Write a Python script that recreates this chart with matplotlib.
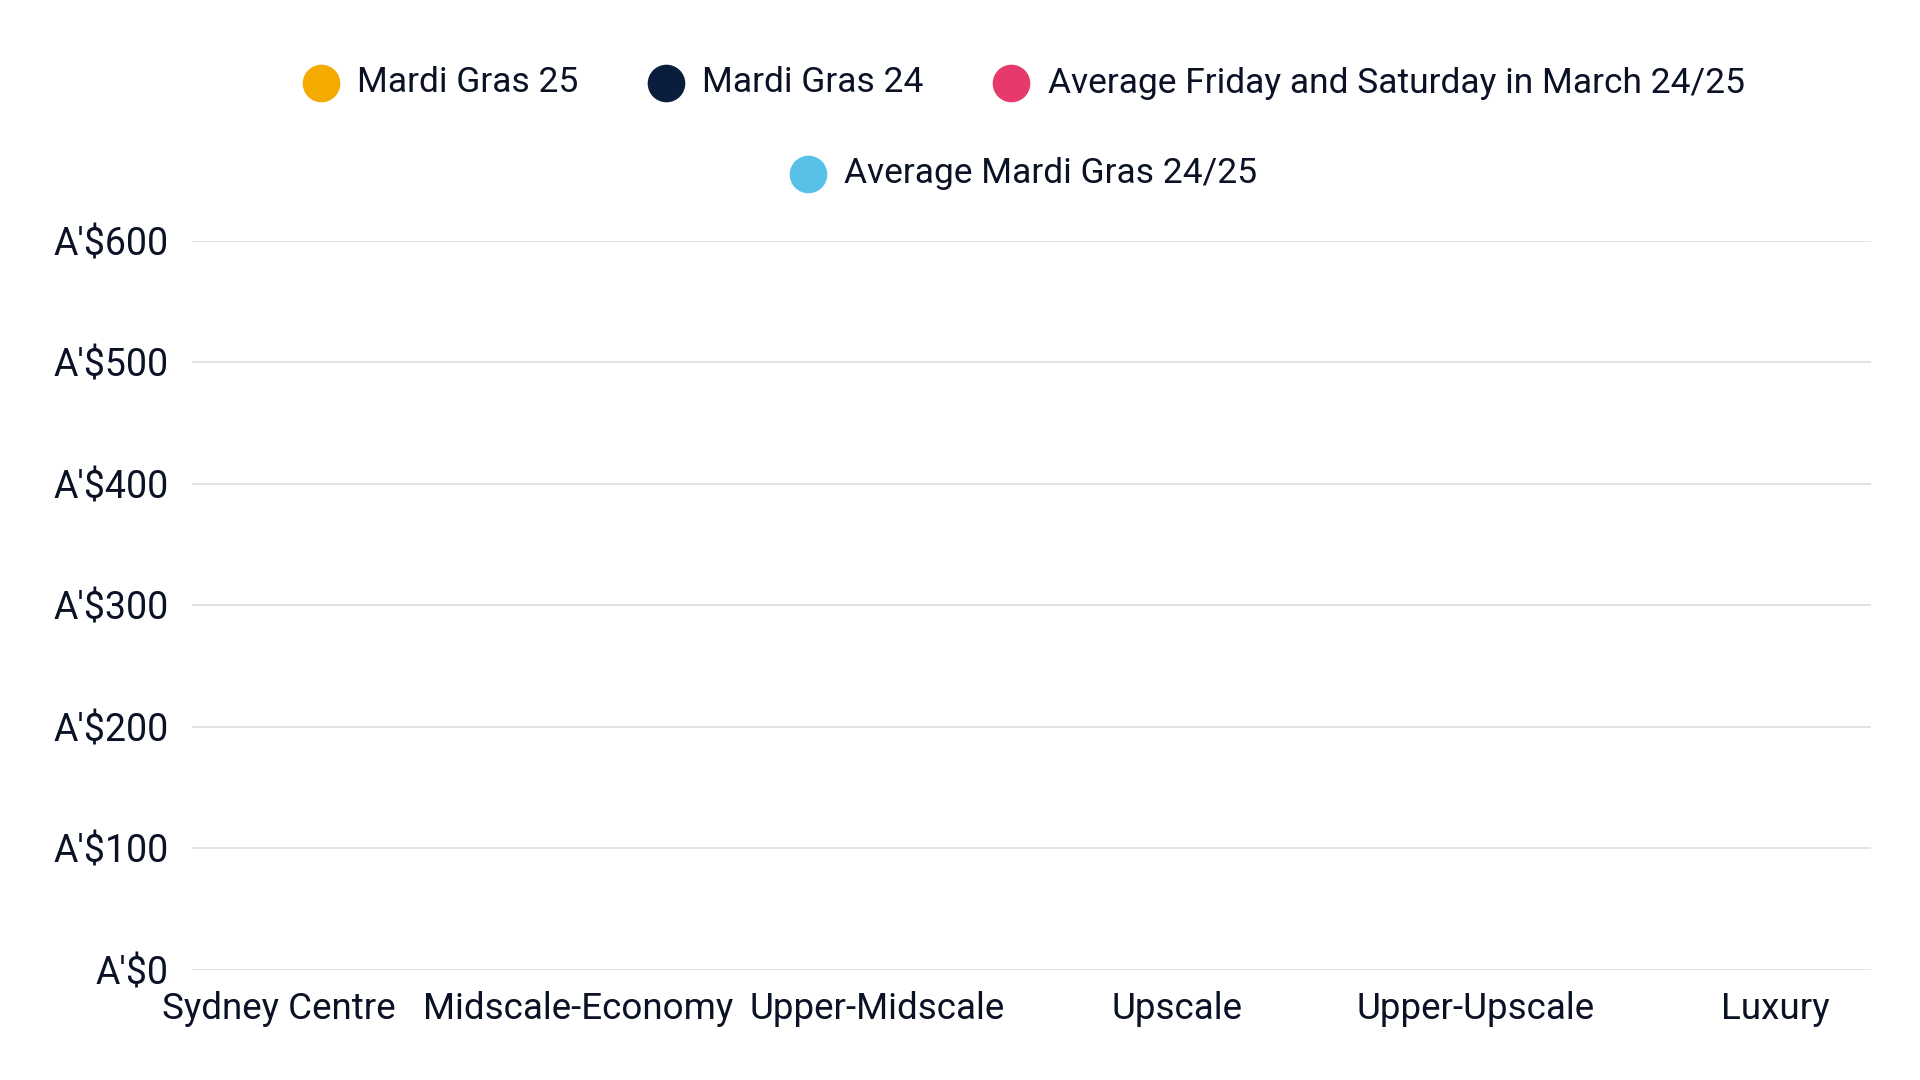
import numpy as np
import matplotlib
matplotlib.use("Agg")
import matplotlib.pyplot as plt

plt.rcParams['font.family'] = ['Roboto', 'DejaVu Sans']

# Categories and series (the reference shows no plotted values yet, so all empty)
categories = ["Sydney Centre", "Midscale-Economy", "Upper-Midscale",
              "Upscale", "Upper-Upscale", "Luxury"]
mardi_gras_25 = [np.nan] * 6
mardi_gras_24 = [np.nan] * 6
avg_fri_sat_march = [np.nan] * 6
avg_mardi_gras = [np.nan] * 6

series_names = ["Mardi Gras 25", "Mardi Gras 24",
                "Average Friday and Saturday in March 24/25",
                "Average Mardi Gras 24/25"]
series_colors = ["#F4AA00", "#0B1D3D", "#E53A6B", "#57C1E8"]
y_ticks = [0, 100, 200, 300, 400, 500, 600]
y_tick_labels = ["A'$0", "A'$100", "A'$200", "A'$300", "A'$400", "A'$500", "A'$600"]

text_color = "#0B1226"

fig = plt.figure(figsize=(19.2, 10.8), dpi=100)
ax = fig.add_axes([0.100, 0.102, 0.8745, 0.675])

x = np.arange(len(categories))
handles = []
for vals, name, col in zip([mardi_gras_25, mardi_gras_24, avg_fri_sat_march, avg_mardi_gras],
                           series_names, series_colors):
    h = ax.scatter(x, vals, s=300, color=col, label=name)
    handles.append(h)

ax.set_xlim(-0.29, 5.32)
ax.set_ylim(0, 600)
ax.set_yticks(y_ticks)
ax.set_yticklabels(y_tick_labels)
ax.set_xticks(x)
ax.set_xticklabels(categories)
ax.tick_params(axis='y', length=0, pad=17, labelsize=27, labelcolor=text_color)
ax.tick_params(axis='x', length=0, pad=15, labelsize=26.5, labelcolor=text_color)
ax.grid(axis='y', color="#DADADA", linewidth=1.1)
ax.set_axisbelow(True)
for s in ax.spines.values():
    s.set_visible(False)

leg_kw = dict(frameon=False, fontsize=25.5, labelcolor=text_color, handlelength=1.05,
              handletextpad=0.5, columnspacing=1.95, markerscale=1.0)
leg1 = fig.legend(handles[:3], series_names[:3], ncol=3, loc='center',
                  bbox_to_anchor=(0.533, 1 - 83 / 1080), **leg_kw)
leg2 = fig.legend(handles[3:], series_names[3:], ncol=1, loc='center',
                  bbox_to_anchor=(0.533, 1 - 174 / 1080), **leg_kw)
for leg in (leg1, leg2):
    for h in leg.legend_handles:
        h.set_sizes([680])

fig.savefig("out.png", dpi=100, facecolor="white")
